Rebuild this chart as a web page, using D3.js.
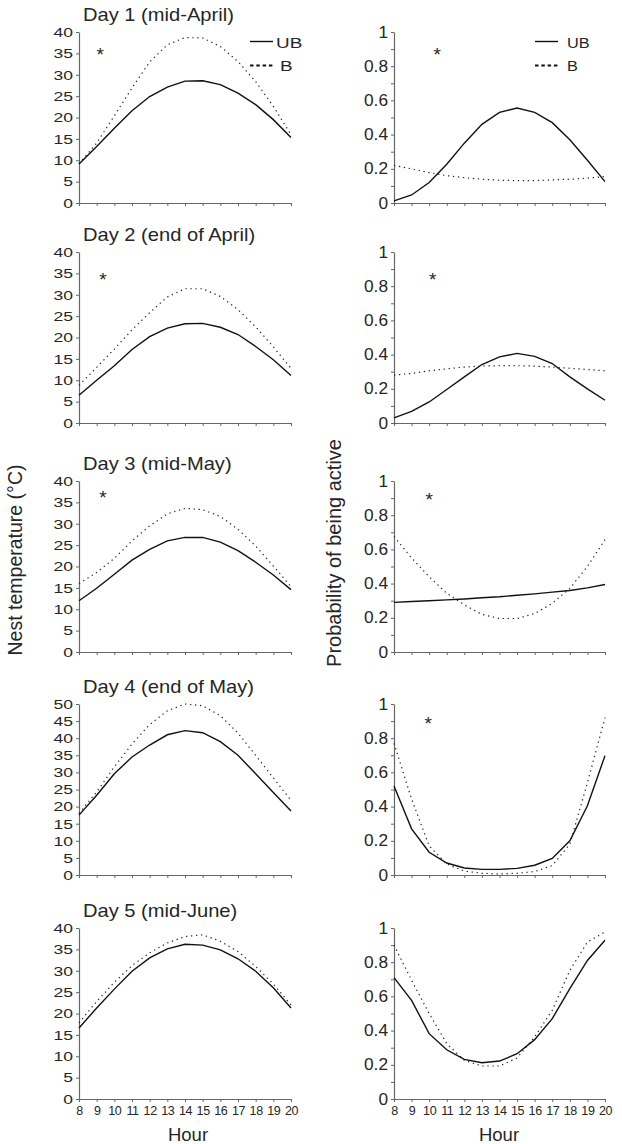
<!DOCTYPE html>
<html>
<head>
<meta charset="utf-8">
<script src="https://cdn.jsdelivr.net/npm/d3@7"></script>
<style>
html,body{margin:0;padding:0;background:#fff;}
svg{display:block;font-family:"Liberation Sans",Arial,sans-serif;}
</style>
</head>
<body>
<svg id="chart" width="622" height="1144"></svg>
<script>
// ---------------- DATA ----------------
const hours = [8,9,10,11,12,13,14,15,16,17,18,19,20];
const dayTitles = ["Day 1 (mid-April)","Day 2 (end of April)","Day 3 (mid-May)","Day 4 (end of May)","Day 5 (mid-June)"];

// Nest temperature (°C)
const day1TempUB = [9.1,13.2,17.5,21.6,24.9,27.1,28.5,28.6,27.7,25.7,23.0,19.5,15.3];
const day1TempB  = [9.2,14.0,20.4,26.9,33.0,37.0,38.7,38.6,36.6,33.1,28.4,22.6,16.0];
const day2TempUB = [6.5,10.0,13.4,17.2,20.2,22.2,23.2,23.3,22.4,20.7,17.9,14.8,11.1];
const day2TempB  = [8.8,13.0,17.3,21.8,25.8,29.5,31.4,31.4,29.6,26.5,22.5,17.8,12.8];
const day3TempUB = [12.0,14.9,18.2,21.5,24.0,26.0,26.8,26.8,25.7,23.7,21.0,18.0,14.6];
const day3TempB  = [16.0,18.6,21.9,26.0,29.5,32.3,33.6,33.3,31.7,28.7,24.8,20.1,15.3];
const day4TempUB = [17.5,23.3,29.6,34.5,38.0,41.0,42.2,41.6,39.0,35.0,29.6,24.1,18.7];
const day4TempB  = [18.0,24.3,31.6,38.3,44.0,48.0,50.0,49.5,46.6,41.5,35.0,28.4,21.8];
const day5TempUB = [16.6,21.3,25.7,29.9,33.0,35.1,36.2,36.0,34.9,32.8,29.9,26.0,21.3];
const day5TempB  = [17.8,22.8,27.3,31.2,34.2,36.5,38.0,38.4,36.9,34.5,31.0,26.9,22.0];

// Probability of being active
const day1ActUB = [0.012,0.047,0.12,0.227,0.35,0.46,0.53,0.555,0.53,0.47,0.37,0.25,0.125];
const day1ActB  = [0.22,0.20,0.178,0.16,0.148,0.139,0.133,0.131,0.131,0.135,0.139,0.145,0.155];
const day2ActUB = [0.03,0.068,0.123,0.196,0.27,0.342,0.387,0.407,0.39,0.348,0.27,0.20,0.133];
const day2ActB  = [0.28,0.29,0.305,0.317,0.327,0.333,0.335,0.335,0.333,0.327,0.32,0.313,0.305];
const day3ActUB = [0.29,0.295,0.30,0.305,0.31,0.317,0.323,0.332,0.34,0.35,0.36,0.375,0.395];
const day3ActB  = [0.676,0.55,0.44,0.343,0.275,0.22,0.196,0.196,0.225,0.284,0.372,0.50,0.657];
const day4ActUB = [0.52,0.27,0.133,0.07,0.041,0.033,0.033,0.039,0.057,0.097,0.20,0.405,0.698];
const day4ActB  = [0.77,0.444,0.17,0.064,0.023,0.01,0.006,0.01,0.02,0.055,0.18,0.54,0.92];
const day5ActUB = [0.71,0.577,0.382,0.288,0.232,0.212,0.222,0.265,0.347,0.47,0.645,0.81,0.928];
const day5ActB  = [0.90,0.694,0.50,0.324,0.226,0.193,0.193,0.24,0.363,0.519,0.752,0.918,0.977];

// tick values
const tempTicks40 = [0,5,10,15,20,25,30,35,40];
const tempTicks50 = [0,5,10,15,20,25,30,35,40,45,50];
const actTicks = [0,0.1,0.2,0.3,0.4,0.5,0.6,0.7,0.8,0.9,1];
const actLabels = [0,0.2,0.4,0.6,0.8,1];

// significance stars [hour, value] (null = none)
const tempStars = [[9.2,35.8],[9.35,34.6],[9.35,37.2],null,null];
const actStars  = [[10.45,0.895],[10.2,0.865],[10.0,0.92],[9.95,0.91],null];

const legendLabels = ["UB","B"];

// ---------------- DRAW ----------------
const tempUB = [day1TempUB,day2TempUB,day3TempUB,day4TempUB,day5TempUB];
const tempB  = [day1TempB,day2TempB,day3TempB,day4TempB,day5TempB];
const actUB  = [day1ActUB,day2ActUB,day3ActUB,day4ActUB,day5ActUB];
const actB   = [day1ActB,day2ActB,day3ActB,day4ActB,day5ActB];

const svg = d3.select("#chart");
const tops = [32,252,481,704,928];
const ph = 171;
const axisColor = "#666";
const lineColor = "#111";
const textColor = "#262626";

const xL = d3.scaleLinear().domain([8,20]).range([79,291]);
const xR = d3.scaleLinear().domain([8,20]).range([394,605]);

function styleAxis(g){
  g.select(".domain").attr("stroke",axisColor).attr("stroke-width",1.2);
  g.selectAll(".tick line").attr("stroke",axisColor).attr("stroke-width",1);
  g.selectAll("text").attr("fill",textColor);
}

function drawPanel(row, isTemp){
  const x = isTemp ? xL : xR;
  const top = tops[row], bot = top + ph;
  const maxV = isTemp ? (row===3 ? 50 : 40) : 1;
  const y = d3.scaleLinear().domain([0,maxV]).range([bot,top]);
  const last = row === 4;

  // y axis
  const tickVals = isTemp ? (row===3 ? tempTicks50 : tempTicks40) : actTicks;
  const yAxis = d3.axisLeft(y).tickValues(tickVals).tickSize(3).tickSizeOuter(0)
    .tickFormat(d => {
      if (isTemp) return d3.format("d")(d);
      return actLabels.some(v => Math.abs(v-d)<1e-9) ? (d===0?"0":d===1?"1":d3.format(".1f")(d)) : "";
    });
  const gy = svg.append("g").attr("transform",`translate(${x.range()[0]},0)`).call(yAxis);
  styleAxis(gy);
  const sxY = isTemp ? 1.3 : 1.08;
  gy.selectAll("text")
    .attr("font-size", isTemp ? 13.5 : 16)
    .attr("x", -6/sxY)
    .attr("transform", `scale(${sxY},1)`);

  // x axis
  const xAxis = d3.axisBottom(x).tickValues(hours).tickSize(3).tickSizeOuter(0)
    .tickFormat(d => last ? String(d) : "");
  const gx = svg.append("g").attr("transform",`translate(0,${bot})`).call(xAxis);
  styleAxis(gx);
  gx.selectAll("text").attr("font-size",12.5).attr("dy",null).attr("y",15.5)
    .attr("transform","scale(1.0,1)").attr("x",0).attr("letter-spacing",-0.4);

  // lines
  const ubVals = isTemp ? tempUB[row] : actUB[row];
  const bVals = isTemp ? tempB[row] : actB[row];
  const line = d3.line().x((d,i)=>x(hours[i])).y(d=>y(d));
  svg.append("path").datum(bVals).attr("d",line)
    .attr("fill","none").attr("stroke","#222").attr("stroke-width",1.2)
    .attr("stroke-dasharray","1.3,3.7");
  svg.append("path").datum(ubVals).attr("d",line)
    .attr("fill","none").attr("stroke",lineColor).attr("stroke-width",1.4);

  // star
  const st = isTemp ? tempStars[row] : actStars[row];
  if (st){
    svg.append("text").attr("x",x(st[0])).attr("y",y(st[1])+11)
      .attr("text-anchor","middle").attr("font-size",19).attr("fill",textColor).text("*");
  }

  // title
  if (isTemp){
    svg.append("text").attr("transform",`translate(83,${top-11}) scale(1.15,1)`)
      .attr("font-size",17.5).attr("fill",textColor).text(dayTitles[row]);
  }

  // legend
  if (row===0){
    const lx0 = isTemp ? 250 : 535, lx1 = isTemp ? 273 : 558;
    const tx = isTemp ? 276 : 567;
    const sx = isTemp ? 1.22 : 1.05;
    svg.append("line").attr("x1",lx0).attr("x2",lx1).attr("y1",41.5).attr("y2",41.5)
      .attr("stroke",lineColor).attr("stroke-width",1.4);
    svg.append("line").attr("x1",lx0).attr("x2",lx1).attr("y1",65.5).attr("y2",65.5)
      .attr("stroke",lineColor).attr("stroke-width",2).attr("stroke-dasharray","3.5,2.8");
    svg.append("text").attr("transform",`translate(${tx},47.5) scale(${sx},1)`)
      .attr("font-size",15.5).attr("fill",textColor).text(legendLabels[0]);
    svg.append("text").attr("transform",`translate(${isTemp?280:567},70.5) scale(${sx},1)`)
      .attr("font-size",15.5).attr("fill",textColor).text(legendLabels[1]);
  }

  if (last){
    svg.append("text").attr("x", isTemp ? 188 : 499).attr("y",1141)
      .attr("text-anchor","middle").attr("font-size",18.5).attr("fill",textColor).text("Hour");
  }
}

for (let r=0;r<5;r++){ drawPanel(r,true); drawPanel(r,false); }

// axis titles
svg.append("text").attr("transform","translate(22,560) rotate(-90)")
  .attr("text-anchor","middle").attr("font-size",19.5).attr("fill",textColor)
  .text("Nest temperature (°C)");
svg.append("text").attr("transform","translate(341,553) rotate(-90)")
  .attr("text-anchor","middle").attr("font-size",20).attr("fill",textColor)
  .text("Probability of being active");
</script>
</body>
</html>
